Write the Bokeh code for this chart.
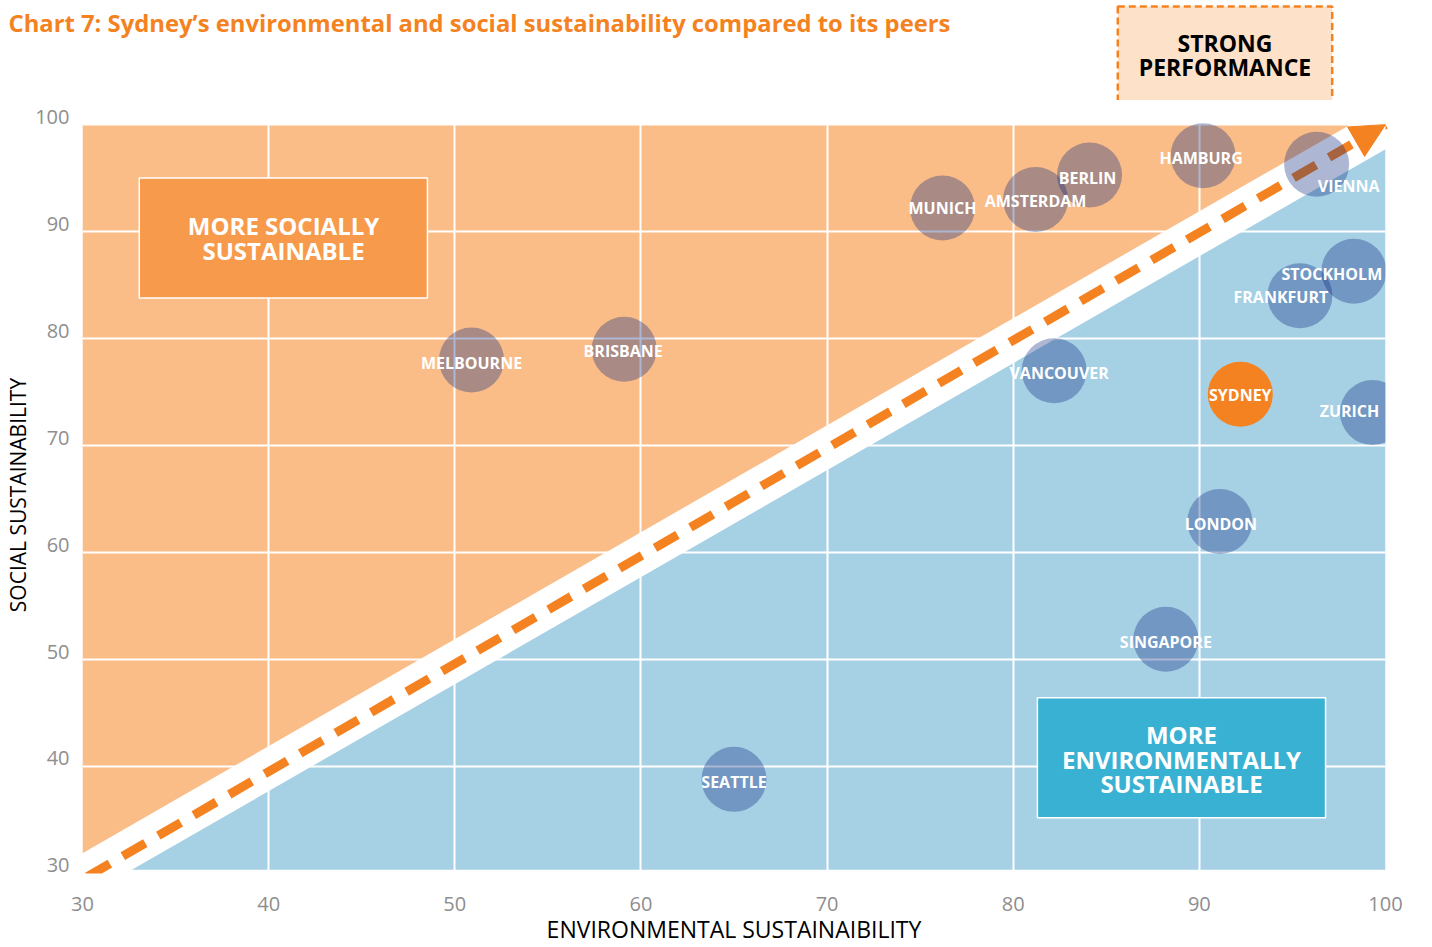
import math
from bokeh.plotting import figure
from bokeh.models import Range1d, FixedTicker, Label, Arrow, NormalHead, ColumnDataSource
from bokeh.core.properties import value
from bokeh.embed import file_html
from bokeh.resources import INLINE

# ---------------- data ----------------
cities = ["MELBOURNE", "BRISBANE", "MUNICH", "AMSTERDAM", "BERLIN", "HAMBURG", "VIENNA",
          "STOCKHOLM", "FRANKFURT", "VANCOUVER", "ZURICH", "LONDON", "SINGAPORE", "SEATTLE"]
env_score = [50.9, 59.1, 76.2, 81.2, 84.1, 90.2, 96.3, 98.3, 95.4, 82.2, 99.3, 91.1, 88.2, 65.0]
social_score = [78.0, 79.0, 92.2, 93.0, 95.3, 97.1, 96.3, 86.3, 84.0, 77.0, 73.1, 62.9, 51.9, 38.8]

highlight_city = ["SYDNEY"]
highlight_env = [92.2]
highlight_social = [74.8]

x_ticks = [30, 40, 50, 60, 70, 80, 90, 100]
y_ticks = [30, 40, 50, 60, 70, 80, 90, 100]
y_tick_labels = ["30", "40", "50", "60", "70", "80", "90", "100"]

# label offsets in screen pixels (style)
lab_dx = [0, -1, 0, 0, -2, -2, 32, -22, -19, 5, -23, 1, 0, 0]
lab_dy = [3, 2, 0, 1, 3, 2, 22, 3, 1, 2, -1, 2, 3, 3]

# ---------------- style ----------------
ORANGE = "#F58220"
ORANGE_BG = "#FBBD88"
BLUE_BG = "#A6D0E4"
SOC_BOX = "#F89A4C"
ENV_BOX = "#38B1D2"
BUBBLE = "#05237D"
FONT = "Open Sans"

XMIN, XMAX, YMIN, YMAX = 30, 100, 30, 100
LABEL_LIFT = 0.75          # y tick labels sit slightly above their grid line
band_upper = 1.9           # orange region lies above y = x + band_upper
band_lower = -2.3          # blue region lies below y = x + band_lower
fill_bottom = 30.35

# ---------------- header strip (title + strong performance box) ----------------
top = figure(width=1424, height=100, x_range=Range1d(0, 1424), y_range=Range1d(100, 0),
             x_axis_type=None, y_axis_type=None, toolbar_location=None, output_backend="svg",
             title=None, min_border_left=0, min_border_right=0, min_border_top=0,
             min_border_bottom=0, outline_line_color=None,
             background_fill_color="white", border_fill_color="white")
top.add_layout(Label(x=8, y=22, text="Chart 7: Sydney\u2019s environmental and social sustainability compared to its peers",
                     text_color=ORANGE, text_font=FONT, text_font_style="bold",
                     text_font_size="23.8px", text_align="left", text_baseline="middle"))
top.add_layout(Label(x=1224.5, y=54.5, text="STRONG\nPERFORMANCE", text_color="black",
                     text_font=FONT, text_font_style="bold", text_font_size="23px",
                     text_align="center", text_baseline="middle", text_line_height=0.72,
                     background_fill_color="#FDE1C8", border_line_color=ORANGE,
                     border_line_dash="7 4", border_line_width=2.5, padding=21))

# ---------------- main chart ----------------
p = figure(width=1424, height=847, x_range=Range1d(XMIN, XMAX),
           y_range=Range1d(YMIN, YMAX + LABEL_LIFT + 0.01),
           min_border_left=82, min_border_right=39, min_border_top=16, min_border_bottom=73,
           toolbar_location=None, output_backend="svg", outline_line_color=None, title=None,
           background_fill_color="white", border_fill_color="white")

# background regions
p.patch([XMIN, YMAX - band_upper, XMIN], [YMAX, YMAX, XMIN + band_upper],
        fill_color=ORANGE_BG, line_color=None, level="image")
p.patch([fill_bottom - band_lower, XMAX, XMAX], [fill_bottom, fill_bottom, XMAX + band_lower],
        fill_color=BLUE_BG, line_color=None, level="image")

# axes & grid
for ax in (p.xaxis, p.yaxis):
    ax.axis_line_color = None
    ax.major_tick_line_color = None
    ax.minor_tick_line_color = None
    ax.major_tick_out = 0
    ax.major_tick_in = 0
    ax.minor_tick_out = 0
    ax.minor_tick_in = 0
    ax.major_label_text_font = FONT
    ax.major_label_text_font_size = "20px"
    ax.major_label_text_color = "#8E8E8E"
    ax.axis_label_text_font = FONT
    ax.axis_label_text_font_style = "normal"
    ax.axis_label_text_color = "black"
p.xaxis.axis_label_text_font_size = "23px"
p.yaxis.axis_label_text_font_size = "21px"
p.xaxis.ticker = FixedTicker(ticks=x_ticks)
p.xaxis.major_label_standoff = 23
p.xaxis.axis_label_standoff = -1
p.xaxis.axis_label = "ENVIRONMENTAL SUSTAINAIBILITY"
lifted = [t + LABEL_LIFT for t in y_ticks]
p.yaxis.ticker = FixedTicker(ticks=lifted)
p.yaxis.major_label_overrides = {t: lab for t, lab in zip(lifted, y_tick_labels)}
p.yaxis.major_label_standoff = 13
p.yaxis.axis_label_standoff = 0
p.yaxis.axis_label = "SOCIAL SUSTAINABILITY"
p.xgrid.ticker = FixedTicker(ticks=x_ticks)
p.ygrid.ticker = FixedTicker(ticks=y_ticks)
p.grid.grid_line_color = "white"
p.grid.grid_line_width = 2

# diagonal dashed arrow
arrow = Arrow(x_start=30.26, y_start=29.7, x_end=XMAX, y_end=YMAX,
              line_color=ORANGE, line_width=9, line_dash="26 15", line_cap="butt",
              end=NormalHead(size=34, fill_color=ORANGE, line_color=ORANGE, line_width=1),
              level="underlay")
p.add_layout(arrow)

# category boxes
p.quad(left=[33.05], right=[48.53], top=[95.02], bottom=[83.8],
       fill_color=SOC_BOX, line_color="white", line_width=1.5)
p.text(x=[40.8], y=[89.4], text=["MORE SOCIALLY\nSUSTAINABLE"], text_color="white",
       text_font=value(FONT), text_font_style="bold", text_font_size="24px",
       text_align="center", text_baseline="middle", text_line_height=0.74)
p.quad(left=[81.3], right=[96.78], top=[46.42], bottom=[35.21],
       fill_color=ENV_BOX, line_color="white", line_width=1.5)
p.text(x=[89.04], y=[40.7], text=["MORE\nENVIRONMENTALLY\nSUSTAINABLE"], text_color="white",
       text_font=value(FONT), text_font_style="bold", text_font_size="24px",
       text_align="center", text_baseline="middle", text_line_height=0.74)

# bubbles
src = ColumnDataSource(dict(x=env_score, y=social_score, city=cities, dx=lab_dx, dy=lab_dy))
p.scatter("x", "y", source=src, size=65, fill_color=BUBBLE, fill_alpha=0.33, line_color=None)
p.scatter(highlight_env, highlight_social, size=65, fill_color=ORANGE, line_color=None)
p.text("x", "y", text="city", source=src, x_offset="dx", y_offset="dy", text_color="white",
       text_font=value(FONT), text_font_style="bold", text_font_size="16px",
       text_align="center", text_baseline="middle")
p.text(highlight_env, highlight_social, text=highlight_city, y_offset=1, text_color="white",
       text_font=value(FONT), text_font_style="bold", text_font_size="16px",
       text_align="center", text_baseline="middle")

open("out.html", "w").write(file_html([top, p], INLINE))
